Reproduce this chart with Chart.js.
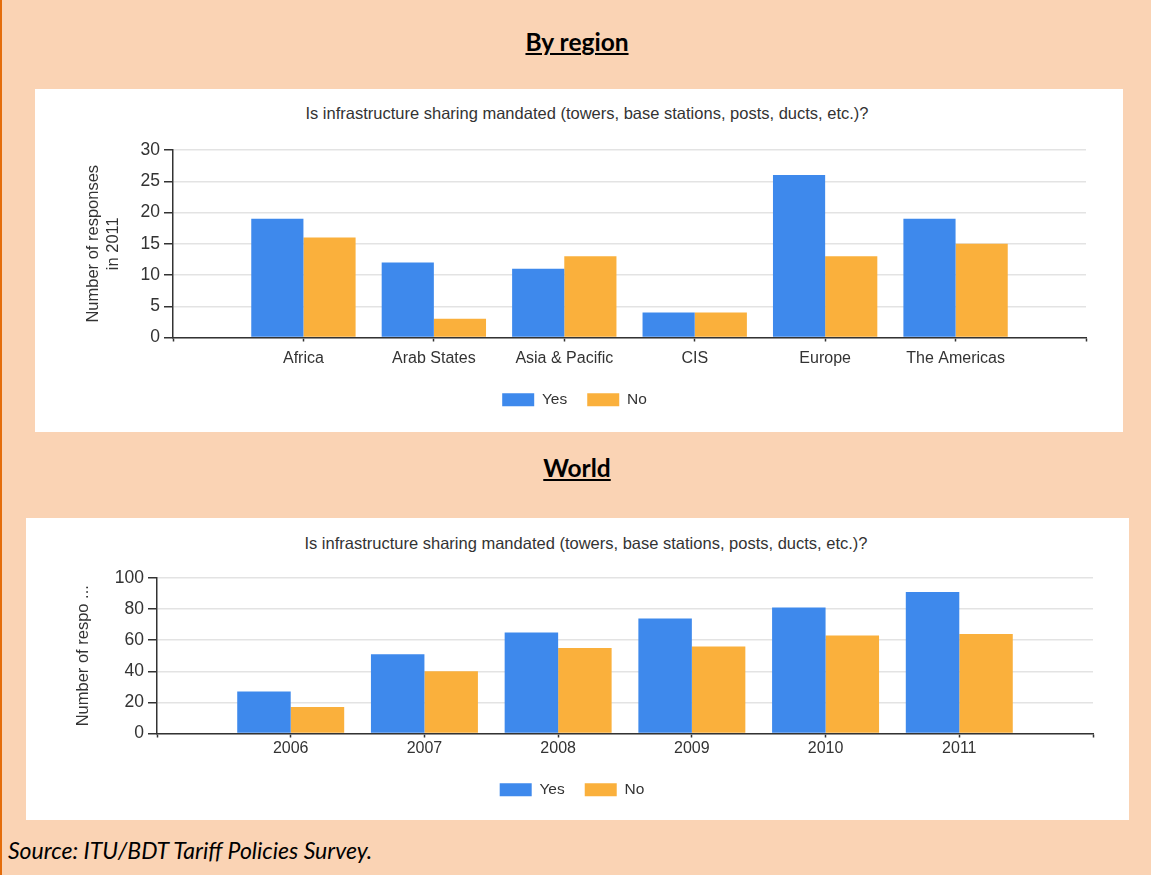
<!DOCTYPE html>
<html>
<head>
<meta charset="utf-8">
<title>Infrastructure sharing</title>
<script src="https://cdn.jsdelivr.net/npm/chart.js@4.4.1/dist/chart.umd.min.js"></script>
<style>
  body {
    margin: 0;
    width: 1151px;
    height: 875px;
    position: relative;
    overflow: hidden;
    background: #FAD3B4;
    font-family: Lato, sans-serif;
  }
  .edge { position: absolute; left: 0; top: 0; width: 2px; height: 875px; background: #E46C0A; }
  .heading {
    position: absolute;
    left: 427px;
    width: 300px;
    text-align: center;
    font-size: 24.5px;
    font-weight: bold;
    line-height: 28px;
    color: #000;
  }
  .heading span { text-decoration: underline; text-decoration-thickness: 2px; text-underline-offset: 2px; }
  .panel { position: absolute; background: #fff; }
  .panel canvas { position: absolute; left: 0; top: 0; }
  .chart-title {
    position: absolute;
    width: 800px;
    text-align: center;
    white-space: nowrap;
    font: 16.5px 'Liberation Sans', Arial, sans-serif;
    line-height: 18px;
    color: #333;
  }
  .source { position: absolute; left: 8px; top: 837px; font-size: 23px; font-style: italic; line-height: 26px; color: #000; }
</style>
</head>
<body>
<div class="edge"></div>

<div class="heading" style="top:28px"><span>By region</span></div>
<div class="panel" style="left:35px; top:89px; width:1088px; height:343px">
  <div class="chart-title" style="left:152px; top:15px">Is infrastructure sharing mandated (towers, base stations, posts, ducts, etc.)?</div>
  <canvas id="regionChart" width="1088" height="343"></canvas>
</div>

<div class="heading" style="top:454px"><span>World</span></div>
<div class="panel" style="left:26px; top:518px; width:1103px; height:302px">
  <div class="chart-title" style="left:160px; top:16px">Is infrastructure sharing mandated (towers, base stations, posts, ducts, etc.)?</div>
  <canvas id="worldChart" width="1103" height="302"></canvas>
</div>

<div class="source">Source: ITU/BDT Tariff Policies Survey.</div>

<script>
'use strict';

// responses per region, 2011
var regions = ['Africa', 'Arab States', 'Asia & Pacific', 'CIS', 'Europe', 'The Americas'];
var regionYes = [19, 12, 11, 4, 26, 19];
var regionNo = [16, 3, 13, 4, 13, 15];
var regionTicks = [0, 5, 10, 15, 20, 25, 30];

// world totals by year
var years = ['2006', '2007', '2008', '2009', '2010', '2011'];
var worldYes = [27, 51, 65, 74, 81, 91];
var worldNo = [17, 40, 55, 56, 63, 64];
var worldTicks = [0, 20, 40, 60, 80, 100];

var BLUE = '#3E89EC';
var ORANGE = '#FAB03C';
var INK = '#333';

Chart.defaults.font.family = "'Liberation Sans', Arial, sans-serif";
Chart.defaults.color = INK;

// one empty slot on each side so the axis runs past the outer bars
function pad(list, filler) {
  return [filler].concat(list, [filler]);
}

function makeChart(canvas, labels, yes, no, ticks, box) {
  return new Chart(canvas.getContext('2d'), {
    type: 'bar',
    data: {
      labels: pad(labels, ''),
      datasets: [
        { label: 'Yes', data: pad(yes, null), backgroundColor: BLUE },
        { label: 'No', data: pad(no, null), backgroundColor: ORANGE }
      ]
    },
    options: {
      responsive: false,
      animation: false,
      datasets: { bar: { categoryPercentage: 0.8, barPercentage: 1 } },
      layout: { padding: box.padding },
      plugins: {
        title: { display: false },
        tooltip: { enabled: false },
        legend: {
          position: 'bottom',
          labels: { boxWidth: 32, boxHeight: 13, padding: 20, color: INK, font: { size: 15.5 } }
        }
      },
      scales: {
        x: {
          offset: false,
          grid: { offset: false, drawOnChartArea: false, tickLength: 4, tickColor: INK, tickWidth: 1.5 },
          border: { color: INK, width: 1.5 },
          ticks: { color: INK, font: { size: 16 }, padding: box.xPad, autoSkip: false, maxRotation: 0 },
          afterFit: function(scale) { scale.height = box.xHeight; }
        },
        y: {
          min: ticks[0],
          max: ticks[ticks.length - 1],
          afterBuildTicks: function(scale) {
            scale.ticks = ticks.map(function(v) { return { value: v }; });
          },
          grid: { color: '#e3e3e3', lineWidth: 1.5, tickLength: 9, tickColor: INK, tickWidth: 1.5 },
          border: { color: INK, width: 1.5 },
          ticks: { color: INK, font: { size: 17.5 }, padding: 4 },
          title: {
            display: true,
            text: box.yTitle,
            color: INK,
            font: { size: 16.5, lineHeight: 1.22 },
            padding: { top: box.yTitlePad, bottom: 0 }
          },
          afterFit: function(scale) { scale.width = box.yWidth; }
        }
      }
    }
  });
}

makeChart(document.getElementById('regionChart'), regions, regionYes, regionNo, regionTicks, {
  padding: { top: 61, right: 37, bottom: 14.5, left: 28 },
  yWidth: 110,
  xHeight: 34.5,
  xPad: 7,
  yTitle: ['Number of responses', 'in 2011'],
  yTitlePad: 20
});

makeChart(document.getElementById('worldChart'), years, worldYes, worldNo, worldTicks, {
  padding: { top: 60, right: 36, bottom: 12.5, left: 25 },
  yWidth: 106,
  xHeight: 28.5,
  xPad: 1,
  yTitle: 'Number of respo ...',
  yTitlePad: 22
});
</script>
</body>
</html>
